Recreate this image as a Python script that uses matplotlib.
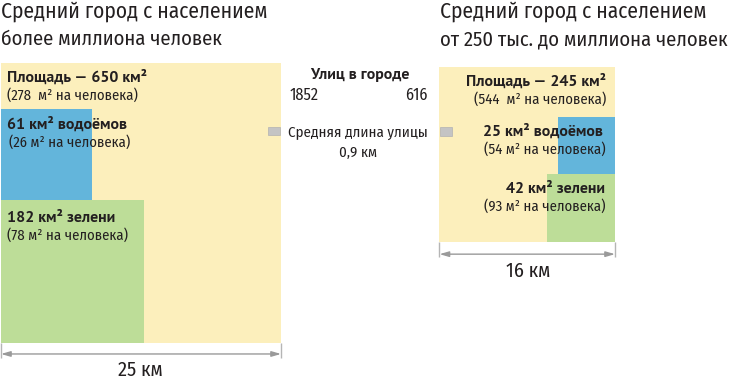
import matplotlib
matplotlib.use("Agg")
import matplotlib.pyplot as plt
from matplotlib.patches import Rectangle, FancyArrowPatch

# ---------------- data ----------------
title_left = ["Средний город с населением", "более миллиона человек"]
title_right = ["Средний город с населением", "от 250 тыс. до миллиона человек"]
side_km = [25, 16]                 # side of the whole city square, km
total_area = [650, 245]            # km²
total_pp = [278, 544]              # m² per person
water_area = [61, 25]              # km²
water_pp = [26, 54]
water_side = [8.1, 5.2]            # km (as drawn)
green_area = [182, 42]             # km²
green_pp = [78, 93]
green_side = [12.8, 6.2]           # km (as drawn)
streets = [1852, 616]
street_len = 0.9                   # km

# ---------------- style ----------------
W, H = 735, 380
YELLOW = "#FCEFBC"
BLUE = "#63B5DB"
GREEN = "#BDDD98"
GREY_FILL = "#C4C4C4"
GREY_EDGE = "#B2B2B2"
ARROW = "#9A9A9A"
TXT = "#231F20"
FAM_B = "PT Sans"
FAM_R = "Fira Sans Condensed"

fig = plt.figure(figsize=(W / 100, H / 100), dpi=100)
fig.patch.set_facecolor("white")


def px_axes(x0, y_top, size_px, lim):
    ax = fig.add_axes([x0 / W, 1 - (y_top + size_px) / H, size_px / W, size_px / H])
    ax.set_xlim(0, lim)
    ax.set_ylim(0, lim)
    ax.axis("off")
    return ax


axL = px_axes(1, 63, 280, side_km[0])
axR = px_axes(439.5, 66.7, 175.5, side_km[1])


def rect(ax, x, y, w, h, color, **kw):
    ax.add_patch(Rectangle((x, y), w, h, facecolor=color, edgecolor="none",
                           clip_on=False, **kw))


# left city: squares anchored bottom-left
sL = side_km[0]
rect(axL, 0, 0, sL, sL, YELLOW)
rect(axL, 0, 0, green_side[0], green_side[0], GREEN)
rect(axL, 0, green_side[0], water_side[0], water_side[0], BLUE)

# right city: squares anchored bottom-right
sR = side_km[1]
rect(axR, 0, 0, sR, sR, YELLOW)
rect(axR, sR - green_side[1], 0, green_side[1], green_side[1], GREEN)
rect(axR, sR - water_side[1], green_side[1], water_side[1], water_side[1], BLUE)

# street length markers
axL.add_patch(Rectangle((sL - street_len - 0.25, 18.55), street_len + 0.2, 0.75,
                        facecolor=GREY_FILL, edgecolor=GREY_EDGE, lw=0.5, clip_on=False))
axR.add_patch(Rectangle((0.05, 9.72), street_len + 0.2, 0.77,
                        facecolor=GREY_FILL, edgecolor=GREY_EDGE, lw=0.5, clip_on=False))


# dimension lines
def dim(ax, length, tick_bottom, y_arrow):
    for x in (0, length):
        ax.plot([x, x], [0, tick_bottom], color="#B5B5B5", lw=1, clip_on=False,
                solid_capstyle="butt")
    ax.add_patch(FancyArrowPatch((0, y_arrow), (length, y_arrow),
                                 arrowstyle="<|-|>,head_length=0.55,head_width=0.16",
                                 mutation_scale=10, color=ARROW, lw=1,
                                 shrinkA=0, shrinkB=0, clip_on=False))


dim(axL, sL, -1.34, -0.98)
dim(axR, sR, -1.37, -1.09)

# ---------------- text ----------------
renderer = fig.canvas.get_renderer()


def T(x, y, s, ha="left", bold=False, size=10, color=TXT):
    return fig.text(x / W, 1 - y / H, s, ha=ha, va="baseline",
                    family=FAM_B if bold else FAM_R,
                    fontweight="bold" if bold else "normal", fontsize=size, color=color)


def fit_size(s, width_px, bold=False):
    t = fig.text(0, 0, s, family=FAM_B if bold else FAM_R,
                 fontweight="bold" if bold else "normal", fontsize=10)
    w = t.get_window_extent(renderer).width
    t.remove()
    return 10 * width_px / w


sz_title2 = fit_size(title_right[1], 288)
sz_title1 = min(fit_size(title_left[0], 266), sz_title2 * 1.06)
sz_bold = fit_size(f"Площадь — {total_area[0]} км²", 140, bold=True)
sz_par = fit_size(f"({total_pp[0]}  м² на человека)", 130)
sz_mid = fit_size("Средняя длина улицы", 139)
sz_num = fit_size(f"{streets[0]}", 29)
sz_dim = fit_size(f"{side_km[0]} км", 45)

# titles
T(1, 18, title_left[0], size=sz_title1)
T(1, 45, title_left[1], size=sz_title2)
T(440, 18, title_right[0], size=sz_title1)
T(440, 45, title_right[1], size=sz_title2)

# left labels
T(7, 82, f"Площадь — {total_area[0]} км²", bold=True, size=sz_bold)
T(7, 100, f"({total_pp[0]}  м² на человека)", size=sz_par)
T(7, 129, f"{water_area[0]} км² водоёмов", bold=True, size=sz_bold)
T(9, 146.5, f"({water_pp[0]} м² на человека)", size=sz_par)
T(7, 222, f"{green_area[0]} км² зелени", bold=True, size=sz_bold)
T(7, 240, f"({green_pp[0]} м² на человека)", size=sz_par)

# middle
T(360, 79, "Улиц в городе", ha="center", bold=True, size=sz_bold)
T(290, 100, f"{streets[0]}", size=sz_num)
T(428, 100, f"{streets[1]}", ha="right", size=sz_num)
T(358, 137, "Средняя длина улицы", ha="center", size=sz_mid)
T(358, 157, f"{street_len:.1f}".replace(".", ",") + " км", ha="center", size=sz_mid)

# right labels
T(606, 86, f"Площадь — {total_area[1]} км²", ha="right", bold=True, size=sz_bold)
T(606, 103.5, f"({total_pp[1]}  м² на человека)", ha="right", size=sz_par)
T(603, 136, f"{water_area[1]} км² водоёмов", ha="right", bold=True, size=sz_bold)
T(606, 153.5, f"({water_pp[1]} м² на человека)", ha="right", size=sz_par)
T(605, 193, f"{green_area[1]} км² зелени", ha="right", bold=True, size=sz_bold)
T(606, 210.5, f"({green_pp[1]} м² на человека)", ha="right", size=sz_par)

# dimension labels
T(140, 376.5, f"{side_km[0]} км", ha="center", size=sz_dim)
T(528, 277, f"{side_km[1]} км", ha="center", size=sz_dim)

fig.savefig("out.png", dpi=100, facecolor="white")
